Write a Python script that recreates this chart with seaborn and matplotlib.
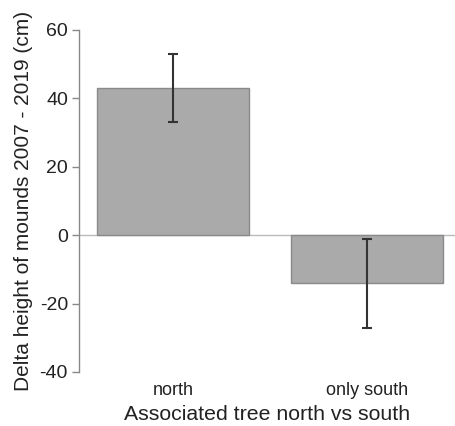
import matplotlib
matplotlib.use("Agg")
import matplotlib.pyplot as plt
import seaborn as sns
import pandas as pd

categories = ["north", "only south"]
means = [43, -14]
err_low = [33, -27]
err_high = [53, -1]

sns.set_style("white")
plt.rcParams['font.family'] = ['Liberation Sans', 'DejaVu Sans']
plt.rcParams['axes.unicode_minus'] = False

df = pd.DataFrame({"tree": categories, "delta": means})

fig = plt.figure(figsize=(4.56, 4.26), dpi=100)
ax = fig.add_axes([79/456, 54/426, 1 - 79/456, (372-30)/426])

sns.barplot(data=df, x="tree", y="delta", ax=ax, color="#aaaaaa",
            saturation=1, width=0.78, edgecolor="#8a8a8a", linewidth=1,
            errorbar=None, zorder=2)
yerr = [[m - lo for m, lo in zip(means, err_low)],
        [hi - m for m, hi in zip(means, err_high)]]
ax.errorbar(x=[0, 1], y=means, yerr=yerr, fmt="none", ecolor="#333333",
            elinewidth=1.5, capsize=3.6, capthick=1.5, zorder=3)
ax.axhline(0, color="#bbbbbb", linewidth=1, zorder=1)

ax.set_xlim(-0.485, 1.459)
ax.set_ylim(-40, 60)
ax.set_yticks([-40, -20, 0, 20, 40, 60])
for s in ["top", "right", "bottom"]:
    ax.spines[s].set_visible(False)
ax.spines["left"].set_color("#888888")
ax.spines["left"].set_linewidth(1)
ax.tick_params(axis="y", left=True, length=5, width=1, color="#888888",
               labelsize=14, labelcolor="#222222", pad=3)
ax.tick_params(axis="x", bottom=False, labelsize=13, labelcolor="#222222", pad=4)
ax.set_xlabel("Associated tree north vs south", fontsize=15.3, color="#222222", labelpad=4)
ax.set_ylabel("Delta height of mounds 2007 - 2019 (cm)", fontsize=15, color="#222222", labelpad=5)

fig.savefig("out.png", dpi=100)
